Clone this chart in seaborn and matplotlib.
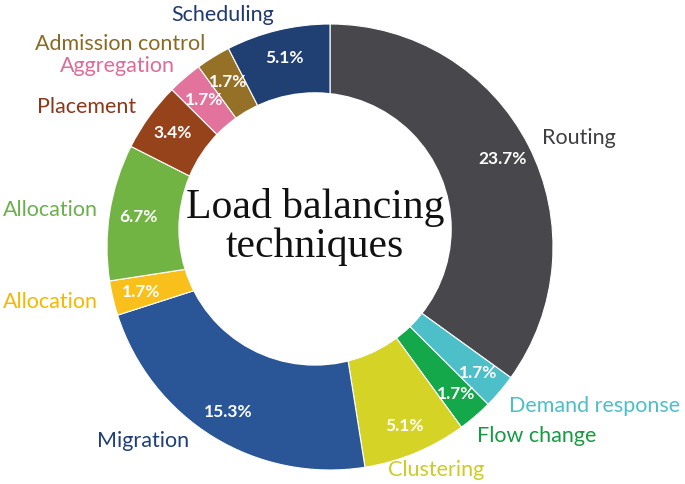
import matplotlib
matplotlib.use("Agg")
import matplotlib.pyplot as plt
import seaborn as sns

# share of each load balancing technique (%), clockwise from 12 o'clock
techniques = ["Routing", "Demand response", "Flow change", "Clustering", "Migration",
              "Allocation", "Allocation", "Placement", "Aggregation",
              "Admission control", "Scheduling"]
shares = [23.7, 1.7, 1.7, 5.1, 15.3, 1.7, 6.7, 3.4, 1.7, 1.7, 5.1]

wedge_colors = ["#48484c", "#4dbfc8", "#14a84a", "#d4d326", "#2a5597", "#f9bf1a",
                "#72b443", "#96431c", "#e2739c", "#957128", "#203f72"]
label_colors = ["#3f3f42", "#4dbfc8", "#169a42", "#cccc22", "#1f3e7a", "#f5b800",
                "#6ab04c", "#8a3a1a", "#e06a98", "#8a6a22", "#1f3a6e"]

sns.set_theme(style="white")
plt.rcParams["font.family"] = ["Lato", "DejaVu Sans"]

fig = plt.figure(figsize=(6.85, 4.84), dpi=100)
ax = fig.add_axes([107 / 685, 14 / 484, 446 / 685, 446 / 484])

total = sum(shares)
wedges, texts, autotexts = ax.pie(
    shares, labels=techniques, colors=wedge_colors,
    startangle=90, counterclock=False,
    autopct=lambda p: f"{p * total / 100:.1f}%",
    pctdistance=0.87, labeldistance=1.07,
    wedgeprops=dict(edgecolor="white", linewidth=0.8),
    textprops=dict(fontsize=15.5),
)

for t, c in zip(texts, label_colors):
    t.set_color(c)
for t in autotexts:
    t.set_color("white")
    t.set_fontweight("bold")
    t.set_fontsize(12.5)

# small nudges for a few labels
nudges = {1: (-0.012, -0.022), 2: (-0.036, -0.036), 3: (-0.15, -0.013),
          4: (-0.07, 0.04), 6: (0.015, 0.0)}
for i, (dx, dy) in nudges.items():
    x, y = texts[i].get_position()
    texts[i].set_position((x + dx, y + dy))

# white hole (slightly off-centre, as in the original)
ax.add_patch(plt.Circle((-0.067, 0.081), 0.61, color="white", zorder=3))
ax.text(-0.067, 0.09, "Load balancing\ntechniques", ha="center", va="center",
        fontsize=30, family="Liberation Serif", linespacing=1.0, color="#111111", zorder=4)

ax.set_xlim(-1, 1)
ax.set_ylim(-1, 1)
ax.axis("off")

fig.savefig("out.png", dpi=100, facecolor="white")
